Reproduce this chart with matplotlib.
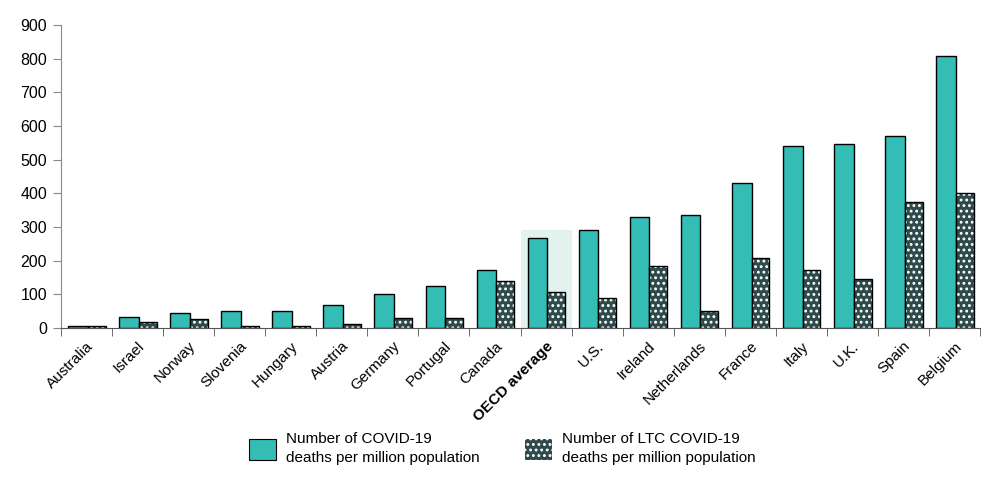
import matplotlib
matplotlib.use("Agg")
import matplotlib.pyplot as plt
import numpy as np
from matplotlib.patches import Patch

# data
countries = ["Australia", "Israel", "Norway", "Slovenia", "Hungary", "Austria",
             "Germany", "Portugal", "Canada", "OECD average", "U.S.", "Ireland",
             "Netherlands", "France", "Italy", "U.K.", "Spain", "Belgium"]
covid_deaths = [5, 31, 44, 50, 50, 68, 100, 125, 171, 266, 292, 330,
                336, 432, 540, 546, 571, 808]
ltc_deaths = [5, 18, 25, 5, 5, 12, 30, 30, 139, 107, 89, 183,
              50, 209, 171, 146, 373, 400]

TEAL = "#33bdb4"
DARK = "#2e4a4b"
HIGHLIGHT = "#e2f2ef"

plt.rcParams["font.family"] = ["Liberation Sans", "DejaVu Sans"]
plt.rcParams["hatch.linewidth"] = 1.3

fig = plt.figure(figsize=(10, 4.93), dpi=100)
ax = fig.add_axes([0.061, 0.335, 0.919, 0.614])

x = np.arange(len(countries))
oecd_idx = countries.index("OECD average")

# highlight behind the OECD average group
ax.bar(oecd_idx, 291, width=1.0, color=HIGHLIGHT, zorder=0)

ax.bar(x - 0.36, covid_deaths, width=0.385, align="edge",
       color=TEAL, edgecolor="black", linewidth=1.0, zorder=2)
# dotted bars: hatch drawn in white, outline added on top
ax.bar(x + 0.025, ltc_deaths, width=0.35, align="edge",
       color=DARK, edgecolor="white", hatch="...", linewidth=0, zorder=2)
ax.bar(x + 0.025, ltc_deaths, width=0.35, align="edge",
       fill=False, edgecolor="black", linewidth=1.0, zorder=3)

ax.set_xlim(-0.5, len(countries) - 0.5)
ax.set_ylim(0, 900)
ax.set_yticks(range(0, 901, 100))

ax.set_xticks(x)
ax.set_xticklabels(countries, rotation=45, ha="right", rotation_mode="anchor")
ax.set_xticks(np.arange(-0.5, len(countries)), minor=True)
ax.tick_params(axis="x", which="major", length=0, pad=8, labelsize=11)
ax.tick_params(axis="x", which="minor", length=6, color="#555555", direction="out")
ax.tick_params(axis="y", length=6, color="#888888", labelsize=11.5, pad=4)

for lab in ax.get_xticklabels():
    if lab.get_text() == "OECD average":
        lab.set_fontweight("bold")

for side in ["top", "right"]:
    ax.spines[side].set_visible(False)
ax.spines["left"].set_color("#888888")
ax.spines["bottom"].set_color("#555555")

handles = [
    Patch(facecolor=TEAL, edgecolor="black", linewidth=0.8),
    Patch(facecolor=DARK, edgecolor="white", hatch="...", linewidth=0),
]
labels = ["Number of COVID-19\ndeaths per million population",
          "Number of LTC COVID-19\ndeaths per million population"]
leg = fig.legend(handles, labels, loc="center", bbox_to_anchor=(0.5025, 0.090), ncol=2,
                 frameon=False, fontsize=11, handlelength=1.75, handleheight=1.77,
                 handletextpad=0.7, columnspacing=2.95)
for t in leg.get_texts():
    t.set_linespacing(1.4)

fig.savefig("out.png", dpi=100)
